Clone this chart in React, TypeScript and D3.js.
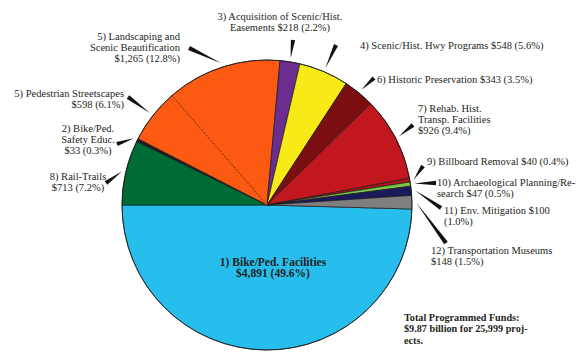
import React from "react";
import * as d3 from "d3";

const categories = [
  "1) Bike/Ped. Facilities",
  "8) Rail-Trails",
  "2) Bike/Ped. Safety Educ.",
  "5) Pedestrian Streetscapes",
  "5) Landscaping and Scenic Beautification",
  "3) Acquisition of Scenic/Hist. Easements",
  "4) Scenic/Hist. Hwy Programs",
  "6) Historic Preservation",
  "7) Rehab. Hist. Transp. Facilities",
  "9) Billboard Removal",
  "10) Archaeological Planning/Research",
  "11) Env. Mitigation",
  "12) Transportation Museums",
];
const values = [4891, 713, 33, 598, 1265, 218, 548, 343, 926, 40, 47, 100, 148];
const labelLines = [
  ["1) Bike/Ped. Facilities", "$4,891 (49.6%)"],
  ["8) Rail-Trails", "$713 (7.2%)"],
  ["2) Bike/Ped.", "Safety Educ.", "$33 (0.3%)"],
  ["5) Pedestrian Streetscapes", "$598 (6.1%)"],
  ["5) Landscaping and", "Scenic Beautification", "$1,265 (12.8%)"],
  ["3) Acquisition of Scenic/Hist.", "Easements $218 (2.2%)"],
  ["4) Scenic/Hist. Hwy Programs $548 (5.6%)"],
  ["6) Historic Preservation $343 (3.5%)"],
  ["7) Rehab. Hist.", "Transp. Facilities", "$926 (9.4%)"],
  ["9) Billboard Removal $40 (0.4%)"],
  ["10) Archaeological Planning/Re-", "search $47 (0.5%)"],
  ["11) Env. Mitigation $100", "(1.0%)"],
  ["12) Transportation Museums", "$148 (1.5%)"],
];
const totalNote = ["Total Programmed Funds:", "$9.87 billion for 25,999 proj-", "ects."];

const colors = [
  "#27BEED", "#006C35", "#1E1E1E", "#FC5A12", "#FC5A12", "#6B2E90", "#F7EA16",
  "#7A0E10", "#C2171E", "#B0141B", "#7CC544", "#1B1A5A", "#7F7F7F",
];

// layout: label anchor position + pointer base point
const layout: { x: number; y: number; anchor: string; base?: [number, number] }[] = [
  { x: 273, y: 265.5, anchor: "middle" },
  { x: 78, y: 179.5, anchor: "middle", base: [106, 183] },
  { x: 88, y: 131.5, anchor: "middle", base: [117, 144] },
  { x: 124, y: 96.5, anchor: "end", base: [128, 97] },
  { x: 180, y: 39.5, anchor: "end", base: [189, 48] },
  { x: 280, y: 19.5, anchor: "middle", base: [293, 40] },
  { x: 360, y: 48.5, anchor: "start", base: [336, 45] },
  { x: 377, y: 82.5, anchor: "start", base: [374, 78] },
  { x: 418, y: 111.5, anchor: "start", base: [413, 125] },
  { x: 427, y: 164.5, anchor: "start", base: [423, 166] },
  { x: 437, y: 185.5, anchor: "start", base: [436, 183] },
  { x: 444, y: 213.5, anchor: "start", base: [441, 208] },
  { x: 431, y: 253.5, anchor: "start", base: [446, 243] },
];

const W = 582, H = 355;
const cx = 267, cy = 205, R = 145;
const font = "'Liberation Serif', 'Times New Roman', serif";
const textColor = "#231f20";

export default function App() {
  const total = d3.sum(values);
  const blueAngle = (2 * Math.PI * values[0]) / total;
  const start = Math.PI * 1.5 - blueAngle;
  const pie = d3.pie<number>().sort(null).value((d) => d).startAngle(start).endAngle(start + 2 * Math.PI);
  const arcs = pie(values);
  const arc = d3.arc<d3.PieArcDatum<number>>().innerRadius(0).outerRadius(R);

  const polar = (a: number, r: number): [number, number] => [cx + r * Math.sin(a), cy - r * Math.cos(a)];

  const dashA = arcs[3].endAngle;
  const dashEnd = polar(dashA, R);

  return (
    <svg width={W} height={H} style={{ position: "absolute", left: 0, top: 0, background: "#fff" }}>
      <g>
        {arcs.map((a, i) => (
          <path
            key={i}
            d={arc(a) || ""}
            transform={`translate(${cx},${cy})`}
            fill={colors[i]}
            stroke="#1a1a1a"
            strokeWidth={0.7}
            strokeLinejoin="round"
          >
            <title>{categories[i]}</title>
          </path>
        ))}
        <line x1={cx} y1={cy} x2={dashEnd[0]} y2={dashEnd[1]} stroke={colors[3]} strokeWidth={1.6} />
        <line x1={cx} y1={cy} x2={dashEnd[0]} y2={dashEnd[1]} stroke="#1a1a1a" strokeWidth={0.6} strokeDasharray="2,1.5" />
        <circle cx={cx} cy={cy} r={R} fill="none" stroke="#1a1a1a" strokeWidth={0.8} />
      </g>
      <g>
        {arcs.map((a, i) => {
          const L = layout[i];
          if (!L.base) return null;
          const mid = (a.startAngle + a.endAngle) / 2;
          const tip = polar(mid, R + 4);
          const [bx, by] = L.base;
          const dx = tip[0] - bx, dy = tip[1] - by;
          const len = Math.hypot(dx, dy) || 1;
          const nx = (-dy / len) * 2.2, ny = (dx / len) * 2.2;
          const pts = `${bx + nx},${by + ny} ${bx - nx},${by - ny} ${tip[0]},${tip[1]}`;
          return <polygon key={i} points={pts} fill="#111" />;
        })}
      </g>
      <g fontFamily={font} fontSize={10.5} fill={textColor}>
        {labelLines.map((lines, i) => {
          const L = layout[i];
          return (
            <text key={i} textAnchor={L.anchor} fontWeight={i === 0 ? "bold" : "normal"} fontSize={i === 0 ? 11.5 : undefined}>
              {lines.map((ln, j) => (
                <tspan key={j} x={L.x} y={L.y + j * 11}>
                  {ln}
                </tspan>
              ))}
            </text>
          );
        })}
        <text fontWeight="bold" fontSize={10.2}>
          {totalNote.map((ln, j) => (
            <tspan key={j} x={404} y={320.5 + j * 11.5}>
              {ln}
            </tspan>
          ))}
        </text>
      </g>
    </svg>
  );
}
